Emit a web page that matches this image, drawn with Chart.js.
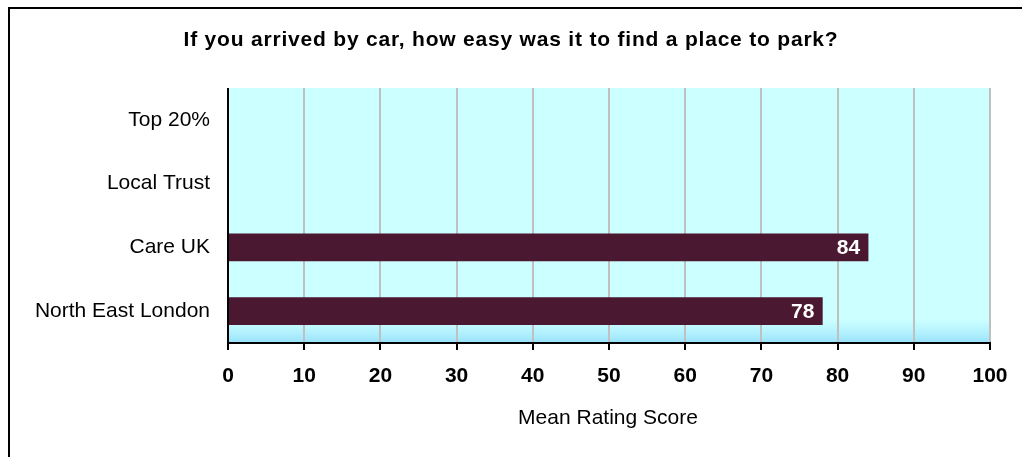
<!DOCTYPE html>
<html>
<head>
<meta charset="utf-8">
<script src="https://cdn.jsdelivr.net/npm/chart.js@4.4.0/dist/chart.umd.min.js"></script>
<style>
  body { margin: 0; background: #fff; }
  #wrap { position: relative; width: 1022px; height: 457px; overflow: hidden; }
  #frame { position: absolute; left: 8px; top: 7px; width: 1030px; height: 470px; border: 2px solid #000; box-sizing: border-box; }
  canvas { position: absolute; left: 0; top: 0; }
</style>
</head>
<body>
<div id="wrap">
  <div id="frame"></div>
  <canvas id="chart_area" width="1022" height="457"></canvas>
</div>
<script>
const categories = ["Top 20%", "Local Trust", "Care UK", "North East London"];
const scores = [null, null, 84, 78];
const xTicks = [0, 10, 20, 30, 40, 50, 60, 70, 80, 90, 100];
const chartTitle = "If you arrived by car, how easy was it to find a place to park?";
const axisTitle = "Mean Rating Score";

const barColour = "rgb(74, 24, 48)";
const fontFamily = "'Liberation Sans', Arial, sans-serif";

// plot background with the pale blue fade at the bottom
const plotBackground = {
    id: "plotBackground",
    beforeDraw(chart) {
        const ctx = chart.ctx;
        const a = chart.chartArea;
        ctx.save();
        ctx.fillStyle = "#ccffff";
        ctx.fillRect(a.left, a.top, a.right - a.left, a.bottom - a.top);
        const g = ctx.createLinearGradient(0, a.bottom - 24, 0, a.bottom);
        g.addColorStop(0, "rgba(170, 235, 255, 0)");
        g.addColorStop(1, "rgb(150, 225, 250)");
        ctx.fillStyle = g;
        ctx.fillRect(a.left, a.bottom - 24, a.right - a.left, 24);
        ctx.restore();
    }
};

// title, axis title, left axis line, x tick marks and value labels
const extras = {
    id: "extras",
    afterDraw(chart) {
        const ctx = chart.ctx;
        const a = chart.chartArea;
        const x = chart.scales.x;
        ctx.save();
        ctx.strokeStyle = "#000";
        ctx.lineWidth = 2;
        ctx.beginPath();
        ctx.moveTo(a.left, a.top);
        ctx.lineTo(a.left, a.bottom);
        ctx.stroke();
        xTicks.forEach(v => {
            const px = Math.round(x.getPixelForValue(v));
            ctx.beginPath();
            ctx.moveTo(px, a.bottom);
            ctx.lineTo(px, a.bottom + 7);
            ctx.stroke();
        });

        ctx.fillStyle = "#000";
        ctx.textAlign = "center";
        ctx.textBaseline = "middle";
        ctx.font = "bold 21px " + fontFamily;
        ctx.letterSpacing = "0.8px";
        ctx.fillText(chartTitle, 511, 40);
        ctx.letterSpacing = "0px";

        ctx.font = "21px " + fontFamily;
        ctx.fillText(axisTitle, 608, 418);

        const meta = chart.getDatasetMeta(0);
        ctx.fillStyle = "#fff";
        ctx.font = "bold 21px " + fontFamily;
        ctx.textAlign = "right";
        meta.data.forEach((bar, i) => {
            if (scores[i] == null) return;
            ctx.fillText(String(scores[i]), bar.x - 8, bar.y + 1);
        });
        ctx.restore();
    }
};

const ctx = document.getElementById("chart_area").getContext("2d");
const myChart = new Chart(ctx, {
    type: "bar",
    data: {
        labels: categories,
        datasets: [{
            data: scores,
            backgroundColor: barColour,
            borderWidth: 0,
            barThickness: 27
        }]
    },
    options: {
        indexAxis: "y",
        responsive: false,
        animation: false,
        events: [],
        layout: { padding: { top: 88, right: 32, left: 0, bottom: 0 } },
        scales: {
            x: {
                min: 0,
                max: 100,
                afterBuildTicks(scale) {
                    scale.ticks = xTicks.map(v => ({ value: v }));
                },
                afterFit(scale) {
                    scale.height = 457 - 343;
                    scale.paddingLeft = 0;
                    scale.paddingRight = 0;
                },
                grid: {
                    color: "#c0c0c0",
                    lineWidth: 2,
                    drawTicks: false
                },
                border: { display: true, color: "#000", width: 2 },
                ticks: {
                    color: "#000",
                    padding: 21,
                    font: { family: fontFamily, size: 21, weight: "bold" }
                }
            },
            y: {
                afterFit(scale) {
                    scale.width = 228;
                    scale.paddingTop = 0;
                    scale.paddingBottom = 0;
                },
                grid: { display: false, drawTicks: false },
                border: { display: false },
                ticks: {
                    color: "#000",
                    padding: 18,
                    font: { family: fontFamily, size: 21 }
                }
            }
        },
        plugins: {
            legend: { display: false },
            title: { display: false },
            tooltip: { enabled: false }
        }
    },
    plugins: [plotBackground, extras]
});
</script>
</body>
</html>
